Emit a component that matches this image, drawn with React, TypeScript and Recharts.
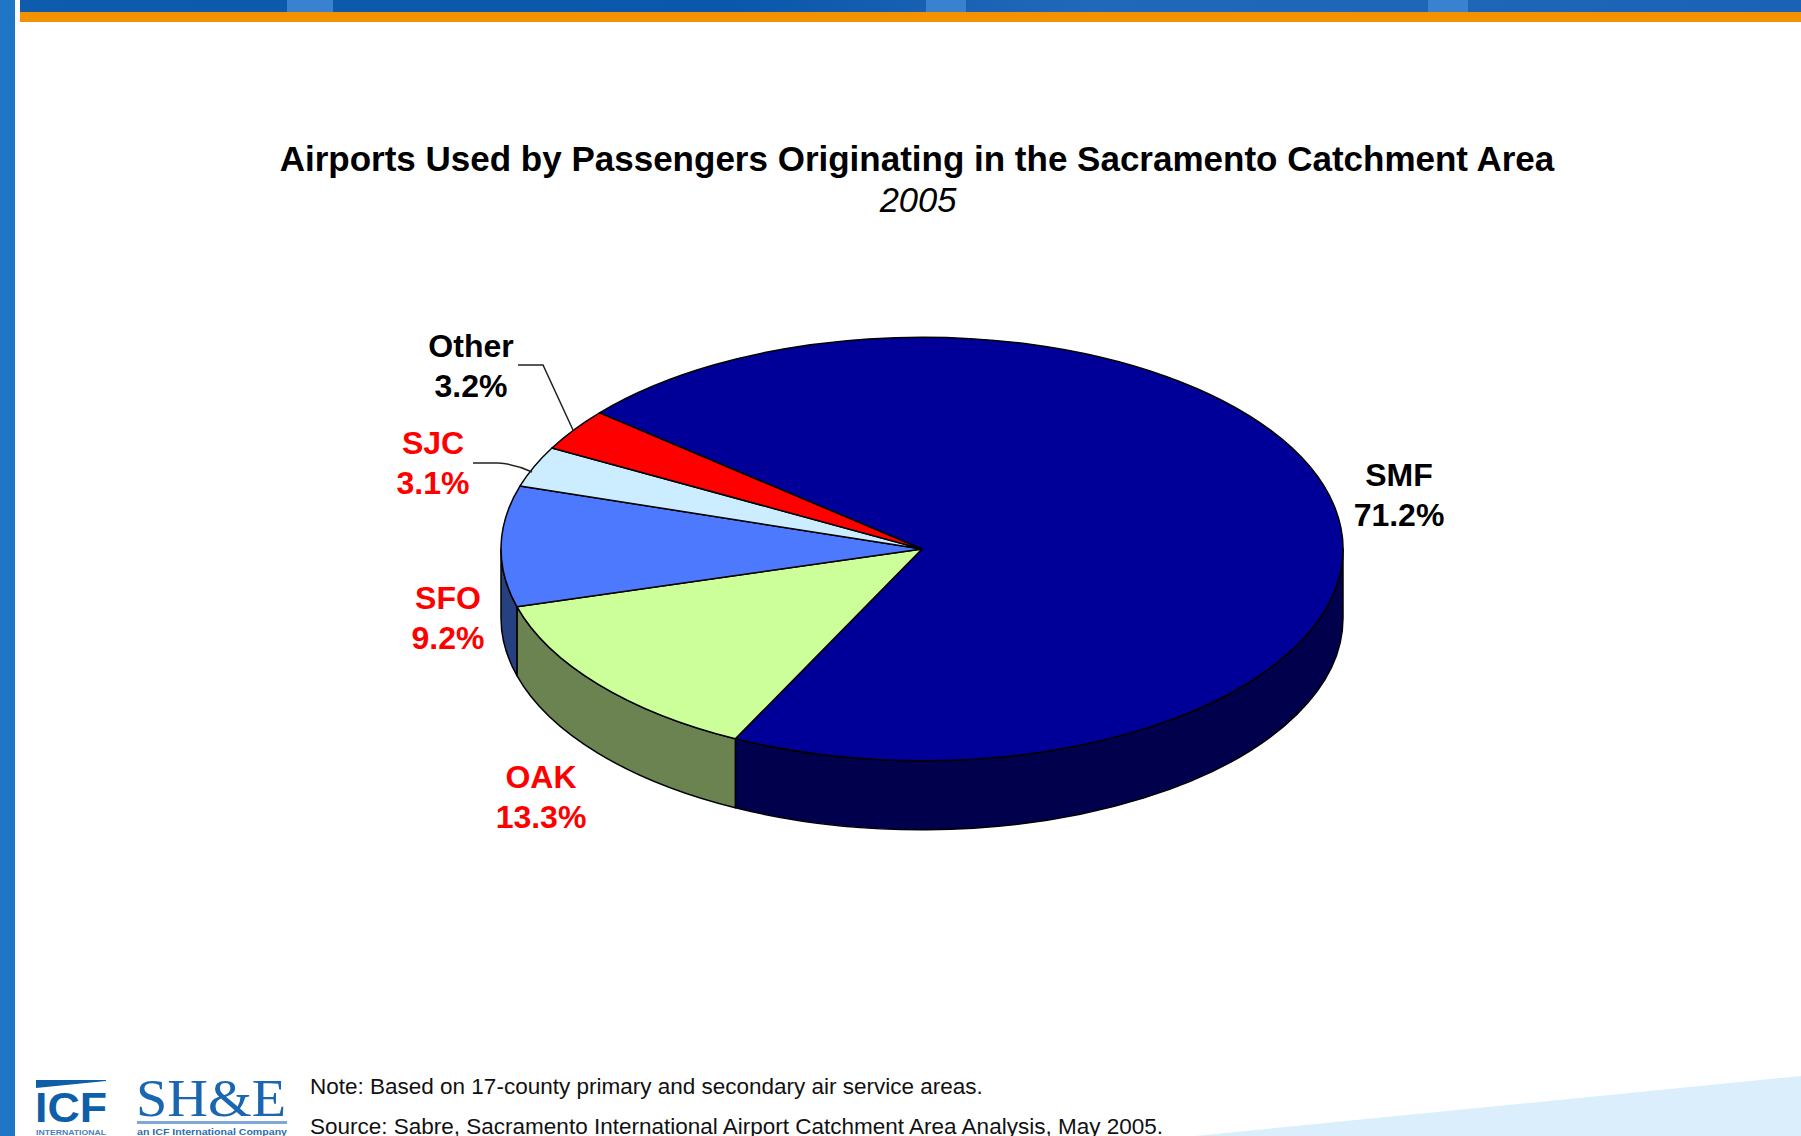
import React from 'react';
import { PieChart, Pie } from 'recharts';

const CATEGORIES = ['SMF', 'OAK', 'SFO', 'SJC', 'Other'];
const SHARES = [71.2, 13.3, 9.2, 3.1, 3.2];

const TOP_COLORS = ['#000099', '#CCFF99', '#4D79FF', '#CCECFF', '#FF0000'];
const WALL_COLORS = ['#00004D', '#6A8350', '#264080', '#667680', '#800000'];
const LABEL_COLORS = ['#000000', '#FF0000', '#FF0000', '#FF0000', '#000000'];

// Centre of each two-line slice label
const LABEL_SPOTS = [
  [1399, 495],
  [541, 797],
  [448, 618],
  [433, 463],
  [471, 366],
];

const FONT = '"Liberation Sans", Arial, sans-serif';
const SQUASH = 0.503; // vertical flattening of the pie top
const DEPTH = 69; // height of the side wall

const chartData = CATEGORIES.map((name, i) => ({ name, value: SHARES[i] }));

const rimPoint = (cx: number, cy: number, r: number, deg: number) => {
  const a = (deg * Math.PI) / 180;
  return [cx + r * Math.cos(a), cy - r * SQUASH * Math.sin(a)];
};

// Flattened wedge, built from the angles the Pie computed
const TopSlice = (props: any) => {
  const { cx, cy, outerRadius: r, startAngle, endAngle, index } = props;
  const [x0, y0] = rimPoint(cx, cy, r, startAngle);
  const [x1, y1] = rimPoint(cx, cy, r, endAngle);
  const large = Math.abs(startAngle - endAngle) > 180 ? 1 : 0;
  return (
    <path
      d={`M${cx},${cy} L${x0},${y0} A${r},${r * SQUASH} 0 ${large} 1 ${x1},${y1} Z`}
      fill={TOP_COLORS[index]}
      stroke="#000"
      strokeWidth={1.5}
      strokeLinejoin="round"
    />
  );
};

// Only the part of a slice facing the viewer (angles 0 to -180) gets a wall
const WallSlice = (props: any) => {
  const { cx, cy, outerRadius: r, startAngle, endAngle, index } = props;
  const hi = Math.min(startAngle, 0);
  const lo = Math.max(endAngle, -180);
  if (hi <= lo) return <g />;
  const [x0, y0] = rimPoint(cx, cy, r, hi);
  const [x1, y1] = rimPoint(cx, cy, r, lo);
  const ry = r * SQUASH;
  const d =
    `M${x0},${y0} A${r},${ry} 0 0 1 ${x1},${y1} L${x1},${y1 + DEPTH} ` +
    `A${r},${ry} 0 0 0 ${x0},${y0 + DEPTH} Z`;
  return <path d={d} fill={WALL_COLORS[index]} stroke="#000" strokeWidth={1.5} strokeLinejoin="round" />;
};

const SliceLabel = (props: any) => {
  const { index, name, value } = props;
  const [x, y] = LABEL_SPOTS[index];
  return (
    <g>
      <text
        x={x}
        y={y - 9}
        textAnchor="middle"
        fontFamily={FONT}
        fontWeight={700}
        fontSize={32}
        fill={LABEL_COLORS[index]}
      >
        {name}
      </text>
      <text
        x={x}
        y={y + 31}
        textAnchor="middle"
        fontFamily={FONT}
        fontWeight={700}
        fontSize={32}
        fill={LABEL_COLORS[index]}
      >
        {`${value}%`}
      </text>
      {name === 'Other' && (
        <polyline points="518,365 543,365 573,430" fill="none" stroke="#222" strokeWidth={1.5} />
      )}
      {name === 'SJC' && (
        <path d="M473,463 L498,463 Q515,464 532,472" fill="none" stroke="#222" strokeWidth={1.5} />
      )}
    </g>
  );
};

const abs = (left: number, top: number, width: number, height: number, background: string) => ({
  position: 'absolute' as const,
  left,
  top,
  width,
  height,
  background,
});

const Logos = () => (
  <svg width={300} height={66} style={{ position: 'absolute', left: 30, top: 1070 }}>
    <path d="M6,10 L76,10 L76,11 L6,18 Z" fill="#0F5FA8" />
    <text x={41} y={52} textAnchor="middle" fontFamily={FONT} fontWeight={700} fontSize={42} fill="#0F5FA8" textLength={72} lengthAdjust="spacingAndGlyphs">
      ICF
    </text>
    <text x={41} y={65} textAnchor="middle" fontFamily={FONT} fontWeight={700} fontSize={7} fill="#4A7FB8" textLength={70} lengthAdjust="spacingAndGlyphs">
      INTERNATIONAL
    </text>
    <text x={181} y={46} textAnchor="middle" fontFamily='"Liberation Serif", serif' fontSize={52} fill="#1A66B0" textLength={150} lengthAdjust="spacingAndGlyphs">
      SH&amp;E
    </text>
    <rect x={107} y={51} width={150} height={3} fill="#7FA9D4" />
    <text x={182} y={65} textAnchor="middle" fontFamily={FONT} fontWeight={700} fontSize={9} fill="#2A6DB0" textLength={150} lengthAdjust="spacingAndGlyphs">
      an ICF International Company
    </text>
  </svg>
);

const App = () => (
  <div style={{ position: 'absolute', left: 0, top: 0, width: 1801, height: 1136, background: '#fff', overflow: 'hidden' }}>
    {/* page furniture */}
    <div style={abs(0, 0, 15, 1136, '#1E76C4')} />
    <div style={abs(20, 0, 1781, 12, 'linear-gradient(90deg,#0F5CAD,#0A57AB 40%,#2268B8 60%,#1A63B4)')} />
    <div style={abs(287, 0, 46, 12, '#3A82CF')} />
    <div style={abs(926, 0, 40, 12, '#3A82CF')} />
    <div style={abs(1428, 0, 40, 12, '#3A82CF')} />
    <div style={abs(20, 12, 1781, 10, '#F39200')} />
    <svg width={1801} height={1136} style={{ position: 'absolute', left: 0, top: 0 }}>
      <polygon points="1195,1136 1801,1076 1801,1136" fill="#DAEEFB" />
    </svg>

    <div style={{ position: 'absolute', left: 0, top: 138, width: 1834, textAlign: 'center', fontFamily: FONT, fontWeight: 700, fontSize: 35, lineHeight: '42px', color: '#000', whiteSpace: 'nowrap' }}>
      Airports Used by Passengers Originating in the Sacramento Catchment Area
    </div>
    <div style={{ position: 'absolute', left: 0, top: 179, width: 1836, textAlign: 'center', fontFamily: FONT, fontStyle: 'italic', fontSize: 34.5, lineHeight: '42px', color: '#000' }}>
      2005
    </div>

    <div style={{ position: 'absolute', left: 0, top: 0 }}>
      <PieChart width={1801} height={1136} margin={{ top: 0, right: 0, bottom: 0, left: 0 }}>
        <Pie
          data={chartData}
          dataKey="value"
          nameKey="name"
          cx={922}
          cy={549}
          outerRadius={421}
          startAngle={140}
          endAngle={-220}
          shape={WallSlice}
          isAnimationActive={false}
        />
        <Pie
          data={chartData}
          dataKey="value"
          nameKey="name"
          cx={922}
          cy={549}
          outerRadius={421}
          startAngle={140}
          endAngle={-220}
          shape={TopSlice}
          label={SliceLabel}
          labelLine={false}
          isAnimationActive={false}
        />
      </PieChart>
    </div>

    <Logos />
    <div style={{ position: 'absolute', left: 310, top: 1074, fontFamily: FONT, fontSize: 22.5, lineHeight: '26px', color: '#111', whiteSpace: 'nowrap' }}>
      Note: Based on 17-county primary and secondary air service areas.
    </div>
    <div style={{ position: 'absolute', left: 310, top: 1114, fontFamily: FONT, fontSize: 22.5, lineHeight: '26px', color: '#111', whiteSpace: 'nowrap' }}>
      Source: Sabre, Sacramento International Airport Catchment Area Analysis, May 2005.
    </div>
  </div>
);

export default App;
